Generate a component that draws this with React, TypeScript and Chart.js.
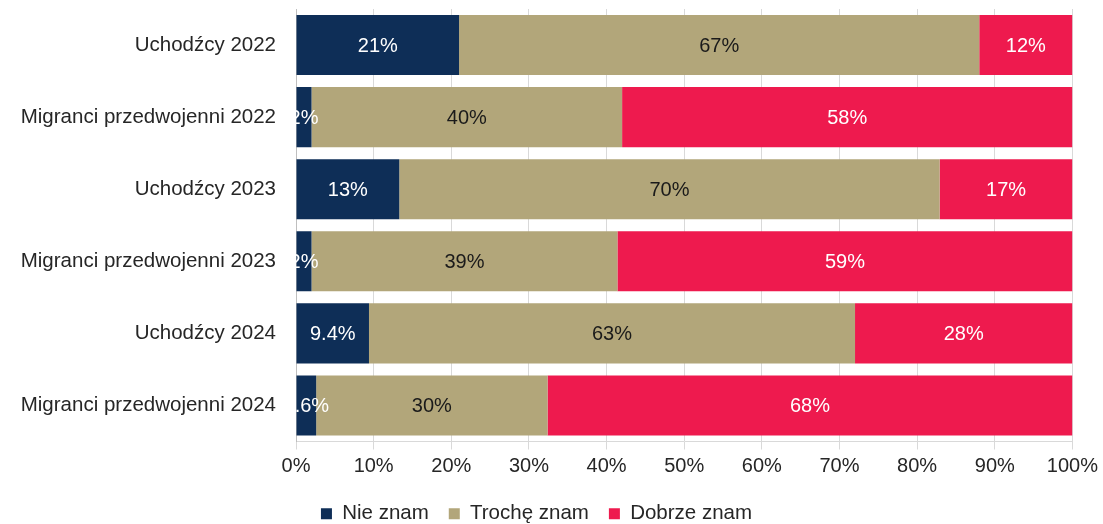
import React, { useEffect, useRef } from "react";
import { Chart, registerables } from "chart.js";

Chart.register(...registerables);

const categories = [
  "Uchodźcy 2022",
  "Migranci przedwojenni 2022",
  "Uchodźcy 2023",
  "Migranci przedwojenni 2023",
  "Uchodźcy 2024",
  "Migranci przedwojenni 2024",
];
const seriesNames = ["Nie znam", "Trochę znam", "Dobrze znam"];
const nieZnam = [21, 2, 13.3, 2, 9.4, 2.6];
const trocheZnam = [67, 40, 69.6, 39.4, 62.6, 29.8];
const dobrzeZnam = [12, 58, 17.1, 58.6, 28, 67.6];
const xTicks = [0, 10, 20, 30, 40, 50, 60, 70, 80, 90, 100];

const colors = ["#0e2e57", "#b2a67a", "#ee1a4e"];
const labelColors = ["#ffffff", "#1a1a1a", "#ffffff"];
const FONT = "'Liberation Sans', Arial, sans-serif";

function fmt(v: number): string {
  if (v < 10 && !Number.isInteger(v)) return v.toFixed(1) + "%";
  return Math.round(v) + "%";
}

const labelPlugin = {
  id: "segLabels",
  afterDatasetsDraw(chart: any) {
    const { ctx, chartArea } = chart;
    ctx.save();
    ctx.beginPath();
    ctx.rect(chartArea.left, chartArea.top, chartArea.right - chartArea.left, chartArea.bottom - chartArea.top);
    ctx.clip();
    ctx.font = "20px " + FONT;
    ctx.textAlign = "center";
    ctx.textBaseline = "middle";
    chart.data.datasets.forEach((ds: any, di: number) => {
      const meta = chart.getDatasetMeta(di);
      meta.data.forEach((bar: any, i: number) => {
        const v = ds.data[i];
        const cx = (bar.x + bar.base) / 2;
        ctx.fillStyle = labelColors[di];
        ctx.fillText(fmt(v), cx, bar.y + 1);
      });
    });
    ctx.restore();
  },
};

export default function App() {
  const ref = useRef<HTMLCanvasElement>(null);
  useEffect(() => {
    document.body.style.margin = "0";
    const chart = new Chart(ref.current!, {
      type: "bar",
      data: {
        labels: categories,
        datasets: [nieZnam, trocheZnam, dobrzeZnam].map((d, i) => ({
          label: seriesNames[i],
          data: d,
          backgroundColor: colors[i],
          borderWidth: 0,
          barPercentage: 60 / 72,
          categoryPercentage: 1,
        })),
      },
      options: {
        indexAxis: "y",
        responsive: false,
        animation: false,
        layout: { padding: { top: 9, right: 30, left: 0, bottom: -10 } },
        scales: {
          x: {
            stacked: true,
            min: 0,
            max: 100,
            afterBuildTicks: (axis: any) => {
              axis.ticks = xTicks.map((v) => ({ value: v }));
            },
            ticks: {
              callback: (v: any) => v + "%",
              color: "#262626",
              font: { family: FONT, size: 20 },
              padding: 5,
              maxRotation: 0,
            },
            grid: { color: "#d9d9d9", lineWidth: 1, tickLength: 8, drawTicks: true },
            border: { color: "#d9d9d9" },
          },
          y: {
            stacked: true,
            afterFit: (scale: any) => {
              scale.paddingTop = 0;
              scale.paddingBottom = 0;
              scale.width = 296;
            },
            ticks: {
              color: "#262626",
              font: { family: FONT, size: 20.5 },
              padding: 12,
            },
            grid: { display: false },
            border: { color: "#bfbfbf" },
          },
        },
        plugins: {
          legend: {
            position: "bottom",
            labels: {
              boxWidth: 11,
              boxHeight: 11,
              padding: 20,
              color: "#262626",
              font: { family: FONT, size: 20.5 },
            },
          },
          tooltip: { enabled: false },
        },
      },
      plugins: [labelPlugin],
    } as any);
    return () => chart.destroy();
  }, []);
  return (
    <div style={{ width: 1103, height: 524 }}>
      <canvas ref={ref} width={1103} height={524} />
    </div>
  );
}
